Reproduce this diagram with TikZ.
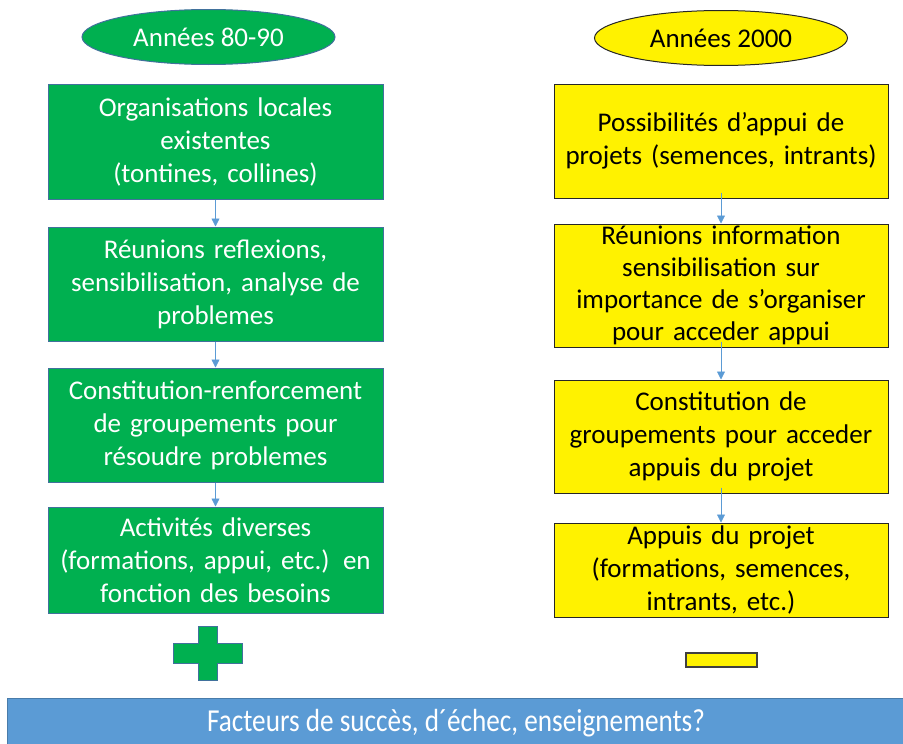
\documentclass[tikz,border=0pt]{standalone}
\usepackage{fontspec}
\setmainfont{Carlito}
\newfontfamily\condfont[FakeStretch=0.85]{Carlito}
\usetikzlibrary{shapes.geometric,arrows.meta}
\definecolor{okgreen}{HTML}{00B050}
\definecolor{okblue}{HTML}{5B9BD5}
\definecolor{edgeblue}{HTML}{41719C}
\begin{document}
\begin{tikzpicture}[x=1pt,y=-1pt,
  greenbox/.style={draw=edgeblue,line width=1pt,fill=okgreen,text=white,
    minimum width=335pt,text width=330pt,align=center,inner sep=0pt,
    font=\fontsize{27}{33}\selectfont},
  yellowbox/.style={draw=black!85,line width=1pt,fill=yellow,text=black,
    minimum width=334pt,text width=330pt,align=center,inner sep=0pt,
    font=\fontsize{27}{33}\selectfont},
  period/.style={ellipse,minimum width=253pt,minimum height=55pt,inner sep=0pt,
    line width=1pt,font=\fontsize{27}{30}\selectfont},
  flow/.style={draw=okblue,line width=0.8pt,-{Triangle[length=8pt,width=8pt]}}]
\useasboundingbox (0,0) rectangle (903,744);

% era headers
\node[period,draw=edgeblue,fill=okgreen,text=white] (eraA) at (208.5,37) {Années 80-90};
\node[period,draw=black!85,fill=yellow] (eraB) at (721,38) {Années 2000};

% left column
\node[greenbox,minimum height=115pt] (g1) at (215.5,141.5)
  {Organisations locales\\existentes\\(tontines, collines)};
\node[greenbox,minimum height=114pt] (g2) at (215.5,284)
  {Réunions reflexions,\\sensibilisation, analyse de\\problemes};
\node[greenbox,minimum height=114pt] (g3) at (215.5,425)
  {Constitution-renforcement\\de groupements pour\\résoudre problemes};
\node[greenbox,minimum height=106pt] (g4) at (215.5,560)
  {Activités diverses\\(formations, appui, etc.) en\\fonction des besoins};

% right column
\node[yellowbox,minimum height=114pt] (y1) at (721,141)
  {Possibilités d’appui de\\projets (semences, intrants)};
\node[yellowbox,minimum height=123pt,font=\fontsize{27}{32}\selectfont] (y2) at (721,285.5)
  {Réunions information\\sensibilisation sur\\importance de s’organiser\\pour acceder appui};
\node[yellowbox,minimum height=113pt] (y3) at (721,436.5)
  {Constitution de\\groupements pour acceder\\appuis du projet};
\node[yellowbox,minimum height=94pt] (y4) at (721,570)
  {Appuis du projet\\(formations, semences,\\intrants, etc.)};

% connectors
\draw[flow] (g1.south) -- (g2.north);
\draw[flow] (g2.south) -- (g3.north);
\draw[flow] (g3.south) -- (g4.north);
\draw[flow] ([yshift=6pt]y1.south) -- (y2.north);
\draw[flow] ([yshift=6pt]y2.south) -- (y3.north);
\draw[flow] ([yshift=6pt]y3.south) -- (y4.north);

% plus sign
\draw[edgeblue,line width=1pt,fill=okgreen]
  (198,626) -- (217,626) -- (217,643) -- (242,643) -- (242,663) -- (217,663)
  -- (217,680) -- (198,680) -- (198,663) -- (173,663) -- (173,643) -- (198,643) -- cycle;

% minus sign
\node[draw=black!75,line width=1.5pt,fill=yellow,minimum width=71pt,minimum height=14pt,inner sep=0pt] (minus) at (721.5,660) {};

% bottom banner
\node[fill=okblue,draw=okblue!80!black,line width=0.6pt,minimum width=898pt,minimum height=50pt,inner sep=0pt,
  text=white,font=\condfont\fontsize{32}{34}\selectfont] (banner) at (456,723)
  {Facteurs de succès, d´échec, enseignements?};
\end{tikzpicture}
\end{document}
